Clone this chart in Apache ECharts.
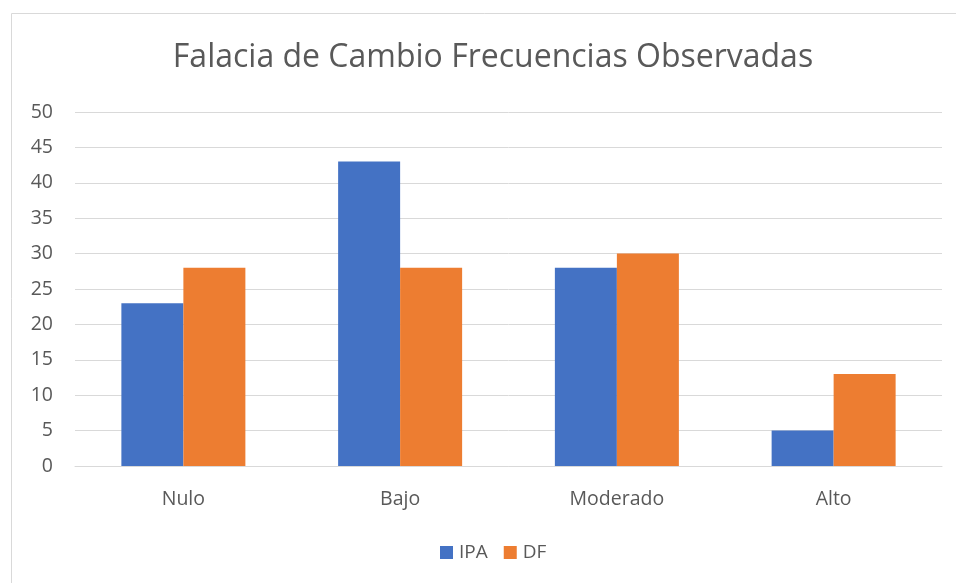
<!DOCTYPE html>
<html>
<head>
<meta charset="utf-8">
<script src="https://cdn.jsdelivr.net/npm/echarts@6/dist/echarts.min.js"></script>
<style>
  html, body { margin: 0; padding: 0; background: #fff; }
  #chart { width: 956px; height: 583px; }
</style>
</head>
<body>
<div id="chart"></div>
<script>
const categories = ["Nulo", "Bajo", "Moderado", "Alto"];
const ipaValues = [23, 43, 28, 5];
const dfValues = [28, 28, 30, 13];
const seriesNames = ["IPA", "DF"];
const chartTitle = "Falacia de Cambio Frecuencias Observadas";

const font = "Open Sans";
const textColor = "#595959";
const gridColor = "#d9d9d9";

const chart = echarts.init(document.getElementById("chart"), null, { renderer: "canvas" });

chart.setOption({
  animation: false,
  textStyle: { fontFamily: font },
  graphic: [{
    type: "rect",
    silent: true,
    shape: { x: 11.5, y: 13.5, width: 1000, height: 1000 },
    style: { fill: "none", stroke: gridColor, lineWidth: 1 }
  }],
  title: {
    text: chartTitle,
    left: 488,
    top: 37,
    textAlign: "center",
    textStyle: { fontFamily: font, fontSize: 32, fontWeight: "normal", color: textColor }
  },
  legend: {
    data: seriesNames,
    left: 435,
    top: 538,
    itemWidth: 13,
    itemHeight: 13,
    itemGap: 16,
    icon: "rect",
    textStyle: { fontFamily: font, fontSize: 19, color: textColor, padding: [0, 0, 0, 1] }
  },
  grid: { left: 75, right: 14, top: 112, bottom: 117, containLabel: false },
  xAxis: {
    type: "category",
    data: categories,
    axisLine: { lineStyle: { color: gridColor } },
    axisTick: { show: false },
    axisLabel: { fontFamily: font, fontSize: 19.5, color: textColor, margin: 23 }
  },
  yAxis: {
    type: "value",
    min: 0,
    max: 50,
    interval: 5,
    axisLine: { show: false },
    axisTick: { show: false },
    axisLabel: { fontFamily: font, fontSize: 19.5, color: textColor, margin: 22 },
    splitLine: { lineStyle: { color: gridColor, width: 1 } }
  },
  series: [
    { name: seriesNames[0], type: "bar", data: ipaValues, barWidth: 62, barGap: "0%", itemStyle: { color: "#4472C4" } },
    { name: seriesNames[1], type: "bar", data: dfValues, barWidth: 62, itemStyle: { color: "#ED7D31" } }
  ]
});
</script>
</body>
</html>
